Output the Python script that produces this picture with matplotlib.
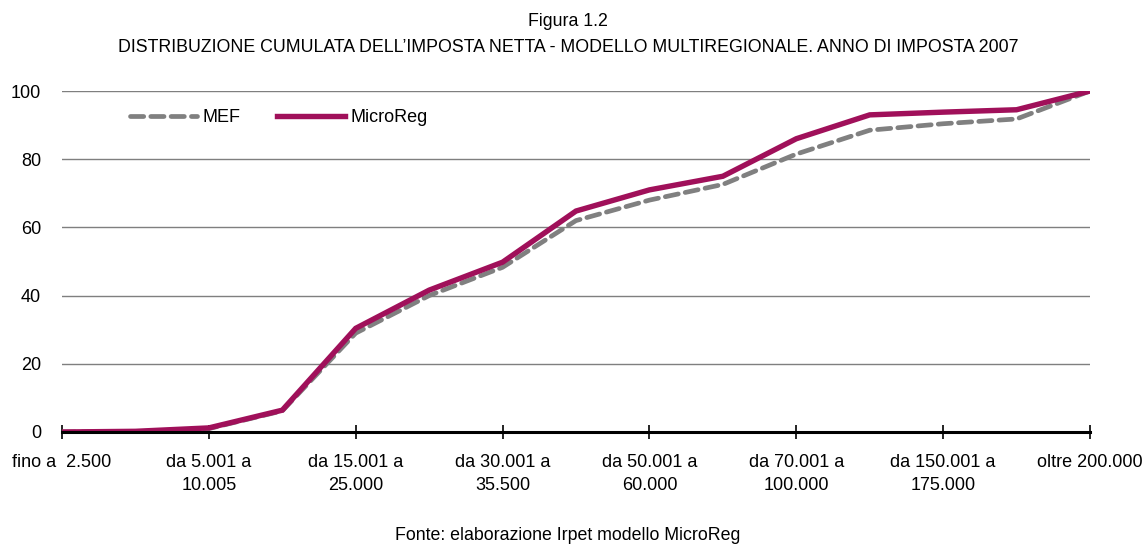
import matplotlib
matplotlib.use("Agg")
import matplotlib.pyplot as plt
from matplotlib import font_manager

# Income brackets (euro) and cumulative share of net tax (%)
categories = [
    "fino a  2.500", "da 2.501 a\n5.000", "da 5.001 a\n10.005", "da 10.006 a\n15.000",
    "da 15.001 a\n25.000", "da 25.001 a\n30.000", "da 30.001 a\n35.500", "da 35.501 a\n50.000",
    "da 50.001 a\n60.000", "da 60.001 a\n70.000", "da 70.001 a\n100.000", "da 100.001 a\n150.000",
    "da 150.001 a\n175.000", "da 175.001 a\n200.000", "oltre 200.000",
]
mef = [0, 0.1, 1.0, 6.2, 29.0, 40.0, 48.3, 62.0, 68.0, 72.6, 81.5, 88.5, 90.4, 91.8, 100]
microreg = [0, 0.2, 1.2, 6.4, 30.4, 41.6, 49.8, 64.8, 71.0, 75.0, 86.0, 93.0, 93.8, 94.5, 100]
yticks = [0, 20, 40, 60, 80, 100]

installed = {f.name for f in font_manager.fontManager.ttflist}
family = "Liberation Sans Narrow" if "Liberation Sans Narrow" in installed else "Liberation Sans"
plt.rcParams["font.family"] = [family, "DejaVu Sans"]

fig = plt.figure(figsize=(11.43, 5.45), dpi=100)
ax = fig.add_axes([62 / 1143, 1 - 432 / 545, (1090 - 62) / 1143, (432 - 91) / 545])

x = list(range(len(categories)))
ax.plot(x, mef, color="#808080", lw=3.4, ls=(0, (2.8, 1.5)), label="MEF",
        solid_capstyle="round", dash_capstyle="round", zorder=3)
ax.plot(x, microreg, color="#A0105A", lw=3.9, label="MicroReg",
        solid_joinstyle="miter", zorder=4)

ax.set_xlim(0, len(categories) - 1)
ax.set_ylim(0, 100)
ax.set_yticks(yticks)
ax.set_yticklabels([str(v) for v in yticks], fontsize=13)
ax.tick_params(axis="y", length=0, pad=15)

shown = x[::2]
ax.set_xticks(shown)
ax.set_xticklabels([categories[i] for i in shown], fontsize=13, linespacing=1.45)
ax.tick_params(axis="x", direction="inout", length=10, width=1.2, color="black", pad=11)

for v in yticks[1:]:
    ax.axhline(v, color="#7f7f7f", lw=1.0, zorder=1)

for s in ["top", "right", "left"]:
    ax.spines[s].set_visible(False)
ax.spines["bottom"].set_linewidth(2.2)
ax.spines["bottom"].set_color("black")
ax.spines["bottom"].set_zorder(5)

leg = ax.legend(loc="upper left", bbox_to_anchor=(0.050, 0.995), ncol=2, frameon=False,
                fontsize=13, handlelength=3.75, handletextpad=0.3, columnspacing=2.0)

fig.text(0.497, 0.961, "Figura 1.2", ha="center", va="center", fontsize=12.8)
fig.text(0.497, 0.912, "DISTRIBUZIONE CUMULATA DELL\u2019IMPOSTA NETTA - MODELLO MULTIREGIONALE. ANNO DI IMPOSTA 2007",
         ha="center", va="center", fontsize=12.8)
fig.text(0.497, 0.018, "Fonte: elaborazione Irpet modello MicroReg", ha="center", va="center", fontsize=12.8)

fig.savefig("out.png", dpi=100)
